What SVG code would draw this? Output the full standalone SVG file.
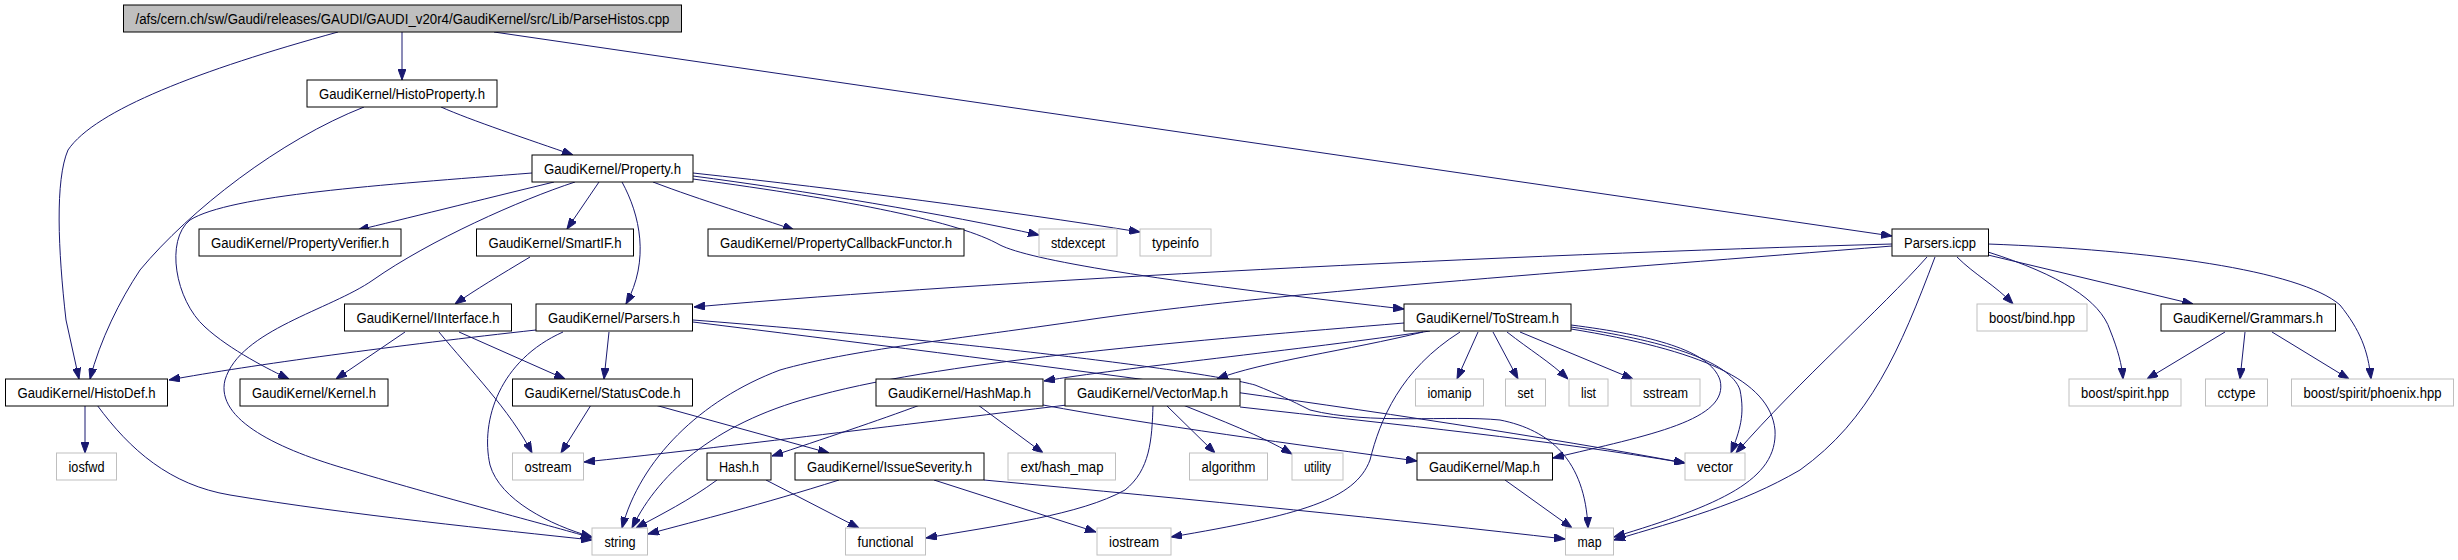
<svg xmlns="http://www.w3.org/2000/svg" width="2458" height="560" viewBox="0 0 2458 560">
<style>
.n rect{fill:#fff;stroke:#000;stroke-width:1}
.g rect{fill:#fff;stroke:#bfbfbf;stroke-width:1}
.r rect{fill:#bfbfbf;stroke:#000;stroke-width:1}
text{font-family:"Liberation Sans",Arial,sans-serif;font-size:14px;text-anchor:middle;fill:#000}
#edges path{fill:none;stroke:#191970;stroke-width:1;marker-end:url(#a)}
</style>
<defs>
<marker id="a" markerWidth="11" markerHeight="8" refX="11" refY="4" orient="auto" markerUnits="userSpaceOnUse"><path d="M0,0 L11,4 L0,8 z" fill="#191970" stroke="#191970" stroke-width="1"/></marker>
</defs>
<rect width="2458" height="560" fill="#fff"/>
<g id="edges">
<path d="M402,32 L402,80"/>
<path d="M338,32 C200,70 95,110 68,150 C55,180 58,250 66,320 L79,379"/>
<path d="M494,32 L1892,236"/>
<path d="M364,107 C280,140 190,210 140,270 C120,300 100,340 90,379"/>
<path d="M441,107 C470,120 530,140 573,155"/>
<path d="M532,173 C380,185 230,195 190,220 C165,240 175,300 205,327 C230,350 270,370 289,379"/>
<path d="M554,182 C480,200 400,220 358,230"/>
<path d="M575,182 C520,200 430,240 373,280 C330,310 240,330 225,380 C215,420 280,450 350,470 C450,500 560,528 592,538"/>
<path d="M599,182 L567,229"/>
<path d="M622,182 C640,215 650,260 626,304"/>
<path d="M653,182 C700,200 760,218 794,230"/>
<path d="M693,176 C800,190 950,215 1039,235"/>
<path d="M693,173 C850,190 1000,210 1140,232"/>
<path d="M693,179 C850,200 960,222 1000,245 C1030,260 1150,280 1404,309"/>
<path d="M1892,244 C1500,255 1000,280 694,307"/>
<path d="M1892,246 C1600,270 1300,290 1100,318 C950,340 850,350 780,370 C700,400 640,460 622,528"/>
<path d="M1927,257 C1880,310 1800,380 1736,453"/>
<path d="M1935,257 C1900,350 1870,420 1800,470 C1740,505 1680,520 1614,540"/>
<path d="M1957,257 C1975,275 1995,285 2013,304"/>
<path d="M1988,252 C2060,275 2100,300 2110,330 C2118,350 2122,365 2123,379"/>
<path d="M1988,255 L2193,304"/>
<path d="M1988,244 C2150,250 2300,270 2340,305 C2360,330 2368,350 2371,379"/>
<path d="M2225,332 L2147,379"/>
<path d="M2245,332 L2240,379"/>
<path d="M2272,332 L2349,379"/>
<path d="M530,257 C500,275 475,290 455,304"/>
<path d="M405,332 L336,379"/>
<path d="M439,332 C470,370 510,410 532,453"/>
<path d="M459,332 L565,379"/>
<path d="M536,330 C400,345 250,365 169,380"/>
<path d="M563,332 C500,360 480,420 490,465 C500,500 550,525 592,537"/>
<path d="M609,332 L604,379"/>
<path d="M591,405 L561,453"/>
<path d="M1067,405 C900,425 700,450 584,462"/>
<path d="M655,405 L829,453"/>
<path d="M920,405 C880,420 820,440 772,456"/>
<path d="M978,405 L1043,453"/>
<path d="M1043,405 C1150,425 1300,445 1417,461"/>
<path d="M717,480 C690,500 660,515 636,528"/>
<path d="M839,480 C760,505 700,520 648,534"/>
<path d="M766,480 L859,528"/>
<path d="M934,480 L1096,532"/>
<path d="M984,480 C1200,500 1400,520 1565,539"/>
<path d="M1153,405 C1152,440 1150,470 1125,490 C1080,515 1000,525 926,538"/>
<path d="M1166,405 L1215,453"/>
<path d="M1183,405 C1220,420 1260,435 1292,454"/>
<path d="M1240,407 C1400,425 1550,440 1685,463"/>
<path d="M1505,480 L1572,528"/>
<path d="M1404,323 C1200,340 950,360 820,395 C720,420 660,470 632,528"/>
<path d="M1423,332 C1350,350 1260,362 1217,379"/>
<path d="M1430,331 C1300,350 1120,368 1044,381"/>
<path d="M1460,332 C1400,370 1380,420 1370,460 C1355,500 1300,515 1171,537"/>
<path d="M1478,332 L1457,379"/>
<path d="M1493,332 L1518,379"/>
<path d="M1507,332 C1530,350 1550,362 1568,379"/>
<path d="M1520,332 L1633,379"/>
<path d="M1571,325 C1650,335 1710,350 1720,380 C1730,420 1650,435 1553,458"/>
<path d="M1571,327 C1660,340 1730,360 1740,390 C1745,415 1740,430 1731,453"/>
<path d="M1571,329 C1700,350 1770,380 1775,430 C1778,480 1720,505 1614,537"/>
<path d="M693,320 C950,340 1200,370 1255,385 C1280,395 1290,400 1310,410 C1370,425 1450,415 1500,420 C1550,430 1585,460 1588,528"/>
<path d="M693,322 C1000,360 1400,410 1685,463"/>
<path d="M85,405 L85,453"/>
<path d="M97,405 C130,450 170,485 230,495 C350,515 500,530 592,540"/>
</g>
<g id="n_root" class="r"><rect x="123.5" y="5" width="558" height="27"/><text x="402.5" y="24" textLength="534" lengthAdjust="spacingAndGlyphs">/afs/cern.ch/sw/Gaudi/releases/GAUDI/GAUDI_v20r4/GaudiKernel/src/Lib/ParseHistos.cpp</text></g>
<g id="n_histoproperty" class="n"><rect x="307" y="80" width="190" height="27"/><text x="402" y="99" textLength="166" lengthAdjust="spacingAndGlyphs">GaudiKernel/HistoProperty.h</text></g>
<g id="n_property" class="n"><rect x="532" y="155" width="161" height="27"/><text x="612.5" y="174" textLength="137" lengthAdjust="spacingAndGlyphs">GaudiKernel/Property.h</text></g>
<g id="n_propverifier" class="n"><rect x="199" y="229" width="202" height="27"/><text x="300" y="248" textLength="178" lengthAdjust="spacingAndGlyphs">GaudiKernel/PropertyVerifier.h</text></g>
<g id="n_smartif" class="n"><rect x="476.5" y="229" width="157" height="27"/><text x="555" y="248" textLength="133" lengthAdjust="spacingAndGlyphs">GaudiKernel/SmartIF.h</text></g>
<g id="n_propcb" class="n"><rect x="708" y="229" width="256" height="27"/><text x="836" y="248" textLength="232" lengthAdjust="spacingAndGlyphs">GaudiKernel/PropertyCallbackFunctor.h</text></g>
<g id="n_stdexcept" class="g"><rect x="1039" y="229" width="78" height="27"/><text x="1078" y="248" textLength="54" lengthAdjust="spacingAndGlyphs">stdexcept</text></g>
<g id="n_typeinfo" class="g"><rect x="1140" y="229" width="71" height="27"/><text x="1175.5" y="248" textLength="47" lengthAdjust="spacingAndGlyphs">typeinfo</text></g>
<g id="n_parsersicpp" class="n"><rect x="1892" y="229" width="96.5" height="27"/><text x="1940" y="248" textLength="72" lengthAdjust="spacingAndGlyphs">Parsers.icpp</text></g>
<g id="n_iinterface" class="n"><rect x="344.5" y="304" width="167" height="27"/><text x="428" y="323" textLength="143" lengthAdjust="spacingAndGlyphs">GaudiKernel/IInterface.h</text></g>
<g id="n_parsersh" class="n"><rect x="536" y="304" width="156.5" height="27"/><text x="614" y="323" textLength="132" lengthAdjust="spacingAndGlyphs">GaudiKernel/Parsers.h</text></g>
<g id="n_tostream" class="n"><rect x="1404" y="304" width="167" height="27"/><text x="1487.5" y="323" textLength="143" lengthAdjust="spacingAndGlyphs">GaudiKernel/ToStream.h</text></g>
<g id="n_bind" class="g"><rect x="1977" y="304" width="110" height="27"/><text x="2032" y="323" textLength="86" lengthAdjust="spacingAndGlyphs">boost/bind.hpp</text></g>
<g id="n_grammars" class="n"><rect x="2161" y="304" width="174.5" height="27"/><text x="2248" y="323" textLength="150" lengthAdjust="spacingAndGlyphs">GaudiKernel/Grammars.h</text></g>
<g id="n_histodef" class="n"><rect x="5.5" y="379" width="162" height="27"/><text x="86.5" y="398" textLength="138" lengthAdjust="spacingAndGlyphs">GaudiKernel/HistoDef.h</text></g>
<g id="n_kernel" class="n"><rect x="240" y="379" width="148" height="27"/><text x="314" y="398" textLength="124" lengthAdjust="spacingAndGlyphs">GaudiKernel/Kernel.h</text></g>
<g id="n_statuscode" class="n"><rect x="512.5" y="379" width="180" height="27"/><text x="602.5" y="398" textLength="156" lengthAdjust="spacingAndGlyphs">GaudiKernel/StatusCode.h</text></g>
<g id="n_hashmap" class="n"><rect x="876" y="379" width="167" height="27"/><text x="959.5" y="398" textLength="143" lengthAdjust="spacingAndGlyphs">GaudiKernel/HashMap.h</text></g>
<g id="n_vectormap" class="n"><rect x="1065" y="379" width="175" height="27"/><text x="1152.5" y="398" textLength="151" lengthAdjust="spacingAndGlyphs">GaudiKernel/VectorMap.h</text></g>
<g id="n_iomanip" class="g"><rect x="1415.5" y="379" width="68" height="27"/><text x="1449.5" y="398" textLength="44" lengthAdjust="spacingAndGlyphs">iomanip</text></g>
<g id="n_set" class="g"><rect x="1505.5" y="379" width="40" height="27"/><text x="1525.5" y="398" textLength="16" lengthAdjust="spacingAndGlyphs">set</text></g>
<g id="n_list" class="g"><rect x="1569" y="379" width="39" height="27"/><text x="1588.5" y="398" textLength="15" lengthAdjust="spacingAndGlyphs">list</text></g>
<g id="n_sstream" class="g"><rect x="1631" y="379" width="69" height="27"/><text x="1665.5" y="398" textLength="45" lengthAdjust="spacingAndGlyphs">sstream</text></g>
<g id="n_spirit" class="g"><rect x="2069" y="379" width="112" height="27"/><text x="2125" y="398" textLength="88" lengthAdjust="spacingAndGlyphs">boost/spirit.hpp</text></g>
<g id="n_cctype" class="g"><rect x="2205.5" y="379" width="62" height="27"/><text x="2236.5" y="398" textLength="38" lengthAdjust="spacingAndGlyphs">cctype</text></g>
<g id="n_phoenix" class="g"><rect x="2291.5" y="379" width="162" height="27"/><text x="2372.5" y="398" textLength="138" lengthAdjust="spacingAndGlyphs">boost/spirit/phoenix.hpp</text></g>
<g id="n_iosfwd" class="g"><rect x="56.5" y="453" width="60" height="27"/><text x="86.5" y="472" textLength="36" lengthAdjust="spacingAndGlyphs">iosfwd</text></g>
<g id="n_ostream" class="g"><rect x="512.5" y="453" width="71" height="27"/><text x="548" y="472" textLength="47" lengthAdjust="spacingAndGlyphs">ostream</text></g>
<g id="n_hash" class="n"><rect x="707" y="453" width="64" height="27"/><text x="739" y="472" textLength="40" lengthAdjust="spacingAndGlyphs">Hash.h</text></g>
<g id="n_issue" class="n"><rect x="795" y="453" width="189" height="27"/><text x="889.5" y="472" textLength="165" lengthAdjust="spacingAndGlyphs">GaudiKernel/IssueSeverity.h</text></g>
<g id="n_exthash" class="g"><rect x="1008" y="453" width="107.5" height="27"/><text x="1062" y="472" textLength="83" lengthAdjust="spacingAndGlyphs">ext/hash_map</text></g>
<g id="n_algorithm" class="g"><rect x="1189.5" y="453" width="78" height="27"/><text x="1228.5" y="472" textLength="54" lengthAdjust="spacingAndGlyphs">algorithm</text></g>
<g id="n_utility" class="g"><rect x="1292" y="453" width="51" height="27"/><text x="1317.5" y="472" textLength="27" lengthAdjust="spacingAndGlyphs">utility</text></g>
<g id="n_maph" class="n"><rect x="1417" y="453" width="135.5" height="27"/><text x="1484.5" y="472" textLength="111" lengthAdjust="spacingAndGlyphs">GaudiKernel/Map.h</text></g>
<g id="n_vector" class="g"><rect x="1685" y="453" width="60" height="27"/><text x="1715" y="472" textLength="36" lengthAdjust="spacingAndGlyphs">vector</text></g>
<g id="n_string" class="g"><rect x="592" y="528" width="55.5" height="27"/><text x="620" y="547" textLength="31" lengthAdjust="spacingAndGlyphs">string</text></g>
<g id="n_functional" class="g"><rect x="845.5" y="528" width="80" height="27"/><text x="885.5" y="547" textLength="56" lengthAdjust="spacingAndGlyphs">functional</text></g>
<g id="n_iostream" class="g"><rect x="1097" y="528" width="74" height="27"/><text x="1134" y="547" textLength="50" lengthAdjust="spacingAndGlyphs">iostream</text></g>
<g id="n_map" class="g"><rect x="1565.5" y="528" width="48" height="27"/><text x="1589.5" y="547" textLength="24" lengthAdjust="spacingAndGlyphs">map</text></g>
</svg>
